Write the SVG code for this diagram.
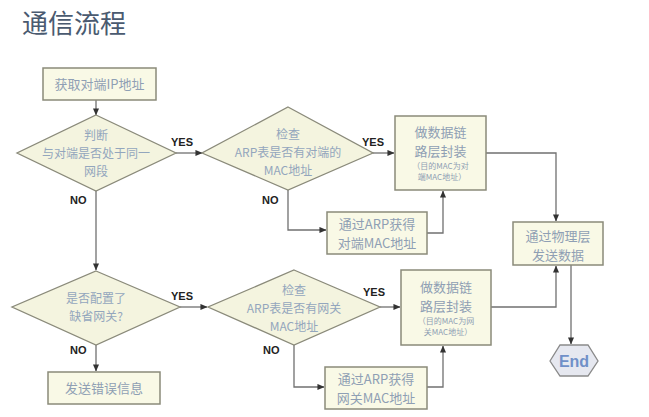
<svg xmlns="http://www.w3.org/2000/svg" width="649" height="417" viewBox="0 0 649 417">
<defs>
<marker id="ah" viewBox="0 0 8 8" refX="7.5" refY="4" markerWidth="7" markerHeight="7" markerUnits="userSpaceOnUse" orient="auto">
<path d="M0,0.5 L8,4 L0,7.5 Z" fill="#333"/>
</marker>
<style>
.box{fill:#f9f9e6;stroke:#8a8a7a;stroke-width:1.5}
.dia{fill:#f4f4df;stroke:#8a8a7a;stroke-width:1.3}
.t{font-family:"Noto Sans CJK SC","Liberation Sans",sans-serif;font-size:12px;fill:#93a6bd;text-anchor:middle}
.tb{font-family:"Noto Sans CJK SC","Liberation Sans",sans-serif;font-size:13px;fill:#8f9fb4;text-anchor:middle}
.ts{font-family:"Noto Sans CJK SC","Liberation Sans",sans-serif;font-size:8px;fill:#8f9fb4;text-anchor:middle}
.lbl{font-family:"Liberation Sans",Arial,sans-serif;font-size:11px;font-weight:bold;fill:#222}
.c{fill:none;stroke:#707070;stroke-width:1.3}
</style>
</defs>
<rect width="649" height="417" fill="#ffffff"/>
<text x="22" y="33" font-family="Noto Sans CJK SC,sans-serif" font-size="26" fill="#4a5a70">通信流程</text>

<g id="connectors">
<path class="c" d="M96,100 V115" marker-end="url(#ah)"/>
<path class="c" d="M176,153 H202" marker-end="url(#ah)"/>
<path class="c" d="M373,153 H394" marker-end="url(#ah)"/>
<path class="c" d="M288,190 V230 H326" marker-end="url(#ah)"/>
<path class="c" d="M427,233 H443 V191" marker-end="url(#ah)"/>
<path class="c" d="M486,153 H556 V221" marker-end="url(#ah)"/>
<path class="c" d="M96,190 V270" marker-end="url(#ah)"/>
<path class="c" d="M180,307 H207" marker-end="url(#ah)"/>
<path class="c" d="M380,307 H400" marker-end="url(#ah)"/>
<path class="c" d="M294,345 V387 H324" marker-end="url(#ah)"/>
<path class="c" d="M427,387 H443 V346" marker-end="url(#ah)"/>
<path class="c" d="M491,307 H556 V266" marker-end="url(#ah)"/>
<path class="c" d="M571,265 V344" marker-end="url(#ah)"/>
<path class="c" d="M96,345 V371" marker-end="url(#ah)"/>
<text class="lbl" x="171" y="146">YES</text>
<text class="lbl" x="362" y="146">YES</text>
<text class="lbl" x="70" y="204">NO</text>
<text class="lbl" x="262" y="204">NO</text>
<text class="lbl" x="171" y="300">YES</text>
<text class="lbl" x="363" y="296">YES</text>
<text class="lbl" x="70" y="354">NO</text>
<text class="lbl" x="263" y="354">NO</text>
</g>

<g id="n1">
<rect class="box" x="43" y="68" width="113" height="32"/>
<text class="tb" x="99.5" y="89">获取对端IP地址</text>
</g>
<g id="d1">
<polygon class="dia" points="96,115 176,153 96,191 17,153"/>
<text class="t" x="96" y="140">判断</text>
<text class="t" x="96" y="158">与对端是否处于同一</text>
<text class="t" x="96" y="176">网段</text>
</g>
<g id="d2">
<polygon class="dia" points="288,107 373,153 288,190 202,153"/>
<text class="t" x="288" y="139">检查</text>
<text class="t" x="288" y="157">ARP表是否有对端的</text>
<text class="t" x="288" y="175">MAC地址</text>
</g>
<g id="n3">
<rect class="box" x="395" y="116" width="91" height="74"/>
<text class="tb" x="440.5" y="137">做数据链</text>
<text class="tb" x="440.5" y="156">路层封装</text>
<text class="ts" x="440.5" y="169">（目的MAC为对</text>
<text class="ts" x="442" y="180">端MAC地址）</text>
</g>
<g id="n4">
<rect class="box" x="327" y="212" width="100" height="42"/>
<text class="tb" x="377" y="229">通过ARP获得</text>
<text class="tb" x="377" y="248">对端MAC地址</text>
</g>
<g id="n5">
<rect class="box" x="513" y="222" width="90" height="43"/>
<text class="tb" x="558" y="241">通过物理层</text>
<text class="tb" x="558" y="260">发送数据</text>
</g>
<g id="d3">
<polygon class="dia" points="96,271 180,307 96,345 12,307"/>
<text class="t" x="96" y="303">是否配置了</text>
<text class="t" x="96" y="321">缺省网关?</text>
</g>
<g id="n6">
<rect class="box" x="48" y="372" width="112" height="32"/>
<text class="tb" x="104" y="393">发送错误信息</text>
</g>
<g id="d4">
<polygon class="dia" points="294,270 380,307 294,345 208,307"/>
<text class="t" x="294" y="295">检查</text>
<text class="t" x="294" y="313">ARP表是否有网关</text>
<text class="t" x="294" y="331">MAC地址</text>
</g>
<g id="n7">
<rect class="box" x="401" y="270" width="90" height="75"/>
<text class="tb" x="446" y="292">做数据链</text>
<text class="tb" x="446" y="311">路层封装</text>
<text class="ts" x="446" y="324">（目的MAC为网</text>
<text class="ts" x="448" y="335">关MAC地址）</text>
</g>
<g id="n8">
<rect class="box" x="325" y="367" width="102" height="42"/>
<text class="tb" x="376" y="384">通过ARP获得</text>
<text class="tb" x="376" y="403">网关MAC地址</text>
</g>
<g id="end">
<polygon points="550,361 560,345 588,345 598,361 588,376 560,376" fill="#e6e8f0" stroke="#8a8a8a" stroke-width="1.3"/>
<text x="574" y="367" font-family="Liberation Sans,Arial,sans-serif" font-size="16" font-weight="bold" fill="#7090c8" text-anchor="middle">End</text>
</g>
</svg>
